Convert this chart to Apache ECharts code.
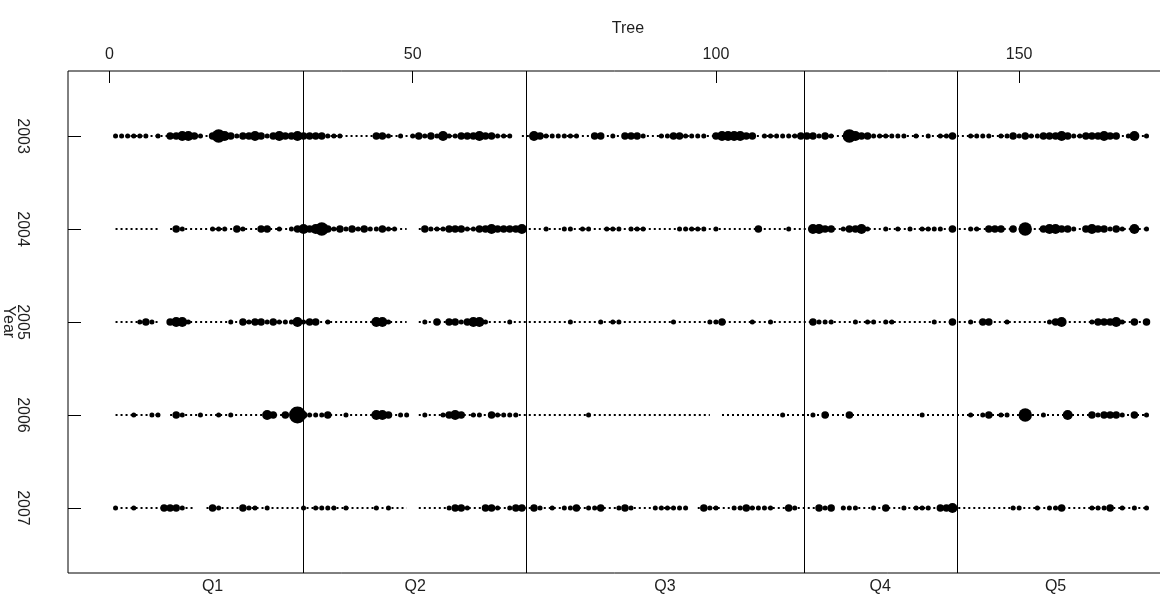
<!DOCTYPE html>
<html>
<head>
<meta charset="utf-8">
<script src="https://cdn.jsdelivr.net/npm/echarts@6/dist/echarts.min.js"></script>
<style>html,body{margin:0;padding:0;background:#fff;}#c{width:1160px;height:601px;}</style>
</head>
<body>
<div id="c"></div>
<script>
// ---- data ----
const years = [2003, 2004, 2005, 2006, 2007];
const treeTicks = [0, 50, 100, 150];
const groupNames = ['Q1', 'Q2', 'Q3', 'Q4', 'Q5'];
const groupCenters = [17, 50.4, 91.6, 127.1, 156];
const groupBounds = [31.9, 68.8, 114.5, 139.8];
// value per tree 1..171 (0 = no dot, null = missing)
const y2003 = [1,1,1,1,1,1,0,1,0,2, 2,3,3,2,1,0,2,4,3,2, 1,2,2,3,2,1,2,3,2,2,
  3,2,2,2,2,1,1,1,0,0, 0,0,0,2,2,1,0,1,0,1, 2,1,2,1,3,1,1,2,2,2, 3,2,2,1,1,1,null,0,0,3,
  2,1,1,1,1,1,1,0,0,2, 2,0,1,0,2,2,2,1,0,0, 1,1,2,2,1,1,1,1,0,2, 3,3,3,3,2,2,0,1,1,1,
  1,1,1,2,2,2,1,2,1,0, 0,4,3,2,2,1,1,1,1,1, 1,0,1,0,1,0,1,1,2,0, 0,1,1,1,1,0,1,1,2,1,
  2,1,1,2,2,2,3,2,1,1, 2,2,2,3,2,2,0,1,3,0, 1];
const y2004 = [0,0,0,0,0,0,0,0,null,0, 2,1,0,0,0,0,1,1,1,0, 2,1,0,0,2,2,0,1,0,1,
  2,3,2,3,4,2,1,2,1,2, 1,2,1,1,2,1,1,0,0,null, 0,2,1,1,1,2,2,2,1,1, 2,2,3,2,2,2,2,3,0,0,
  0,1,0,0,1,1,0,1,1,0, 0,1,1,1,0,1,1,1,0,0, 0,0,0,1,1,1,1,1,0,1, 0,0,0,0,0,0,2,0,0,0,
  0,1,0,0,0,3,3,2,2,0, 1,2,2,3,1,0,0,1,0,1, 0,1,0,1,1,1,1,0,2,0, 0,1,1,0,2,2,2,0,2,0,
  4,0,0,2,3,3,2,2,1,0, 2,3,2,2,1,2,1,0,3,0, 1];
const y2005 = [0,0,0,0,1,2,1,0,null,2, 3,3,1,0,0,0,0,0,0,1, 0,2,1,2,2,1,2,1,1,1,
  3,1,2,2,0,1,0,0,0,0, 0,0,0,3,3,1,0,0,0,null, 0,1,0,2,0,2,2,1,2,3, 3,1,0,0,0,1,0,0,0,0,
  0,0,0,0,0,1,0,0,0,0, 1,0,1,1,0,0,0,0,0,0, 0,0,1,0,0,0,0,0,1,1, 2,0,0,0,0,1,0,0,1,0,
  0,0,0,0,0,2,1,1,1,0, 0,0,1,0,1,1,0,1,1,0, 0,0,0,0,0,1,0,0,2,0, 0,1,0,2,2,0,0,1,0,0,
  0,0,0,0,1,2,3,0,0,0, 0,1,2,2,2,3,1,0,2,0, 2];
const y2006 = [0,0,0,1,0,0,1,1,null,0, 2,1,0,0,1,0,0,1,0,1, 0,0,0,0,0,3,2,0,2,0,
  5,2,1,1,1,2,0,0,1,0, 0,0,0,3,3,2,0,1,1,null, 0,1,0,0,1,2,3,2,0,1, 1,0,2,1,1,1,1,0,0,0,
  0,0,0,0,0,0,0,0,1,0, 0,0,0,0,0,0,0,0,0,0, 0,0,0,0,0,0,0,0,0,null, 0,0,0,0,0,0,0,0,0,0,
  1,0,0,0,0,1,0,2,0,0, 0,2,0,0,0,0,0,0,0,0, 0,0,0,1,0,0,0,0,0,0, 0,1,0,1,2,0,1,1,0,0,
  4,0,0,1,0,0,0,3,0,0, 0,2,1,2,2,2,1,0,2,0, 1];
const y2007 = [1,0,0,1,0,0,0,0,2,2, 2,1,0,0,null,0,2,1,0,0, 0,2,1,1,0,1,0,0,0,0,
  0,1,0,1,1,1,1,0,1,0, 0,0,0,1,0,1,0,0,0,null, 0,0,0,0,0,1,2,2,1,0, 0,2,2,1,0,1,2,2,0,2,
  1,0,1,0,1,1,2,0,1,1, 2,0,0,1,2,1,0,0,0,1, 1,1,1,1,1,null,0,2,1,1, 0,0,1,1,2,1,1,1,1,0,
  0,2,1,0,0,0,2,1,2,null, 1,1,1,0,0,1,0,2,0,0, 1,0,1,1,1,0,2,2,3,0, 0,0,0,0,0,0,0,0,1,1,
  0,0,1,0,1,1,2,0,0,0, 0,1,1,1,2,0,1,0,1,0, 1];
const rows = [y2003, y2004, y2005, y2006, y2007];

// ---- build ----
const FONT = '"Liberation Sans", Arial, sans-serif';
const TXT = '#1e1e1e';
const sizeMap = [0, 5, 7.5, 10, 13.5, 17];
const series = [];
rows.forEach((vals, r) => {
  const yr = years[r];
  const lineData = vals.map((v, i) => [i + 1, v === null ? '-' : yr]);
  series.push({
    type: 'line', data: lineData, symbol: 'none', connectNulls: false,
    lineStyle: { color: '#000', width: 2, type: [2, 3] },
    silent: true, z: 2
  });
  const pts = [];
  vals.forEach((v, i) => { if (v) pts.push([i + 1, yr, v]); });
  series.push({
    type: 'scatter', data: pts, symbol: 'circle',
    symbolSize: d => sizeMap[d[2]],
    itemStyle: { color: '#000', opacity: 1 }, silent: true, z: 3
  });
});
series.push({
  type: 'line', data: [], silent: true,
  markLine: {
    symbol: 'none', silent: true, animation: false,
    label: { show: false },
    lineStyle: { color: '#000', type: 'solid', width: 1 },
    data: groupBounds.map(b => ({ xAxis: b }))
  }
});

const chart = echarts.init(document.getElementById('c'));
chart.setOption({
  animation: false,
  backgroundColor: '#fff',
  grid: { left: 68, right: -28, top: 71, bottom: 28, show: true, borderColor: '#000', borderWidth: 1,
          containLabel: false, outerBoundsMode: 'none' },
  xAxis: [{
    type: 'value', position: 'top', min: -6.84, max: 177.84,
    name: 'Tree', nameLocation: 'middle', nameGap: 34, nameMoveOverlap: false,
    nameTextStyle: { fontFamily: FONT, fontSize: 16, color: TXT },
    axisLine: { show: false, onZero: false }, splitLine: { show: false },
    axisTick: { show: true, inside: true, length: 12, customValues: treeTicks, lineStyle: { color: '#000' } },
    axisLabel: { customValues: treeTicks, margin: 8, fontFamily: FONT, fontSize: 16, color: TXT }
  }, {
    type: 'value', position: 'bottom', min: -6.84, max: 177.84,
    axisLine: { show: false, onZero: false }, splitLine: { show: false }, axisTick: { show: false },
    axisLabel: {
      customValues: groupCenters, margin: 6, fontFamily: FONT, fontSize: 16, color: TXT,
      formatter: v => { const k = groupCenters.indexOf(v); return k >= 0 ? groupNames[k] : ''; }
    }
  }],
  yAxis: {
    type: 'value', inverse: true, min: 2002.3, max: 2007.7,
    name: 'Year', nameLocation: 'middle', nameGap: 52, nameRotate: -90, nameMoveOverlap: false,
    nameTextStyle: { fontFamily: FONT, fontSize: 16, color: TXT },
    axisLine: { show: false, onZero: false }, splitLine: { show: false },
    axisTick: { show: true, inside: true, length: 13, customValues: years, lineStyle: { color: '#000' } },
    axisLabel: { customValues: years, rotate: -90, margin: 38, fontFamily: FONT, fontSize: 16, color: TXT,
                 formatter: v => String(v) }
  },
  series: series
});
</script>
</body>
</html>
